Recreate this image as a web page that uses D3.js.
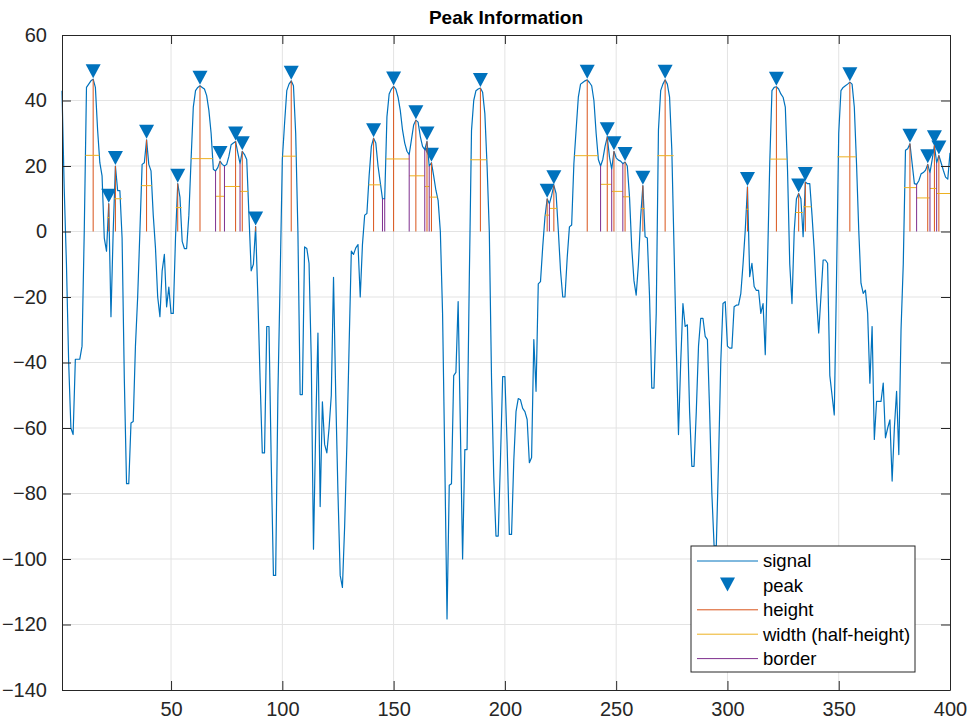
<!DOCTYPE html>
<html>
<head>
<meta charset="utf-8">
<script src="https://cdn.jsdelivr.net/npm/d3@7"></script>
<style>
  body { margin: 0; background: #fff; }
  svg { font-family: "Liberation Sans", Arial, sans-serif; }
</style>
</head>
<body>
<svg id="chart" width="970" height="723"></svg>
<script>
// signal samples, x = 1..400
const signal = [
  43, 13, -10, -40, -60, -62, -39, -39, -39, -35,
  0, 44, 45, 46, 46.5, 44, 31, 21, 17, -2,
  -6, 8.5, -26, 0, 20, 12.5, 12.5, -2, -45, -77,
  -77, -58.5, -58, -35, -20, 0, 20.5, 21, 28, 20.5,
  18.5, 5, -5, -20, -26, -12, -7, -23, -17, -25,
  -25, -2, 14.6, 10.5, -3, -5.2, -5.2, 5, 22, 38,
  43, 44, 44.5, 44, 43.5, 41.5, 37, 30, 19, 18.5,
  19.5, 21.5, 20.5, 20, 20.5, 23, 26.5, 27, 27.5, 24,
  20.7, 24.5, 23.5, 22, 5, -12, -10, 1.5, -20, -45,
  -67.6, -67.6, -29, -29, -70, -105, -105, -50, -15, 22,
  33, 43, 45, 46, 44.5, 30, 0, -49.8, -49.8, -4.7,
  -5.2, -9.7, -39, -97, -60, -31, -84, -52, -65, -67.6,
  -60, -50, -14, -50, -80, -105, -108.7, -90, -65, -35,
  -6, -7, -5, -4, -20, -4, 5, 5.5, 17, 26,
  28.5, 27, 20, 15, 10, 10, 35, 42, 43.5, 44.3,
  43.5, 41, 37, 31, 27, 24.5, 23.5, 28, 32.5, 34,
  33.4, 29, 26, 25, 27.5, 20, 21, 17, 12.6, 9.5,
  0, -25, -70, -118.3, -77.5, -77, -44, -43, -21.4, -60,
  -100, -66.6, -66.6, -15, 30.8, 40, 43, 43.5, 43.8, 42.5,
  36, 20, 0, -45, -75, -93, -93, -70, -44.3, -44.3,
  -65, -92.5, -92.5, -70, -55, -51, -51.4, -54, -55, -57.4,
  -70.6, -69, -33, -48.8, -16, -15.3, -4.7, 4.4, 10, 8.5,
  11, 14.1, 11.6, 0.4, -12, -20, -20, -8, 1.4, 2,
  20.7, 31, 41, 45, 45.5, 46, 46.3, 45.5, 44.5, 40,
  30, 22, 20, 22, 26, 28.8, 22.7, 19, 24.5, 22.5,
  21.8, 21.5, 20.7, 21.2, 20, 10.5, -5, -15, -19.4, -10,
  4.4, 14, -1.6, -2, -20, -47.8, -47.8, -25, 31, 43,
  45, 46.3, 45, 41, 25, -5, -35, -62, -40, -22,
  -29, -28.5, -55, -71.7, -71.7, -55, -35, -26.5, -26.5, -32,
  -33, -55, -80, -96, -96, -70, -40, -22, -21.4, -35,
  -35.6, -35.6, -23, -22.5, -22.4, -19, -10, 0.4, 13.6, -13.8,
  -9.7, -16.8, -18, -18, -25, -22, -37.6, -10, 20.7, 43,
  44, 44.2, 43.5, 42, 41, 38, 18.7, -10, -22, 0,
  10, 11.6, 10, -1.6, 15.1, 14.6, 14.6, 5, -5.7, -20,
  -31, -20, -8.7, -8.7, -9.7, -44, -50, -56, -15, 30,
  43, 44, 44.5, 45, 45.6, 45, 38, 20.7, 0.4, -15.8,
  -18.9, -17.9, -25, -46.3, -29, -63.5, -51.9, -51.9, -51.9, -46.3,
  -63, -60, -57.5, -76.2, -60, -48.8, -68.1, -30, -10, 24.8,
  25.3, 26.8, 20.7, 14.6, 14.4, 15.5, 17.6, 18, 18.7, 20.5,
  18, 22, 26.3, 21, 23.2, 21, 18.7, 16.6, 16, 24
];
const sampleX = d3.range(1, signal.length + 1);

// peak locations (sample index)
const peakLocs = [15, 22, 25, 39, 53, 63, 72, 79, 82, 88, 104, 141, 150, 160, 165, 167,
  189, 219, 222, 237, 246, 249, 254, 262, 272, 309, 322, 332, 335, 355, 382, 390, 393, 395];

const xTicks = [50, 100, 150, 200, 250, 300, 350, 400];
const yTicks = [-140, -120, -100, -80, -60, -40, -20, 0, 20, 40, 60];
const legendLabels = ["signal", "peak", "height", "width (half-height)", "border"];

const colors = {signal: "#0072BD", height: "#D95319", width: "#EDB120", border: "#7E2F8E"};

const plot = {left: 62, right: 950, top: 35, bottom: 690};

const svg = d3.select("#chart");
const x = d3.scaleLinear().domain([1, 400]).range([plot.left, plot.right]);
const y = d3.scaleLinear().domain([-140, 60]).range([plot.bottom, plot.top]);

const sig = i => signal[i - 1];
// x position where the signal crosses a level between samples i and i+1
function crossing(i, level) {
  const y0 = sig(i), y1 = sig(i + 1);
  return i + (level - y0) / (y1 - y0);
}

// bounds: zero crossing, or the minimum between two neighbouring peaks (border)
const peaks = peakLocs.map((p, k) => {
  const pk = sig(p), half = pk / 2;
  let left = null, right = null;
  for (let j = p - 1; j >= 1; j--) {
    if (k > 0 && j === peakLocs[k - 1]) {
      let m = j + 1;
      for (let t = j + 1; t < p; t++) if (sig(t) < sig(m)) m = t;
      left = {x: m, border: true};
      break;
    }
    if (sig(j) < 0) { left = {x: crossing(j, 0), border: false}; break; }
  }
  if (!left) left = {x: 1, border: false};
  for (let j = p + 1; j <= signal.length; j++) {
    if (k < peakLocs.length - 1 && j === peakLocs[k + 1]) {
      let m = p + 1;
      for (let t = p + 1; t < j; t++) if (sig(t) <= sig(m)) m = t;
      right = {x: m, border: true};
      break;
    }
    if (sig(j) < 0) { right = {x: crossing(j - 1, 0), border: false}; break; }
  }
  if (!right) right = {x: signal.length, border: false};

  let wl = left.x, wr = right.x;
  for (let j = p - 1; j >= Math.ceil(left.x); j--) {
    if (sig(j) < half) { wl = Math.max(crossing(j, half), left.x); break; }
  }
  for (let j = p + 1; j <= Math.floor(right.x); j++) {
    if (sig(j) < half) { wr = Math.min(crossing(j - 1, half), right.x); break; }
  }
  return {x: p, pk, half, left, right, wl, wr};
});

const borders = [];
peaks.forEach(d => {
  [d.left, d.right].forEach(b => {
    if (b.border && !borders.includes(b.x)) borders.push(b.x);
  });
});

// grid
const grid = svg.append("g").attr("stroke", "#e3e3e3").attr("stroke-width", 1);
grid.selectAll("line.gx").data(xTicks.filter(t => t < 400)).enter().append("line")
  .attr("x1", d => x(d)).attr("x2", d => x(d))
  .attr("y1", plot.top).attr("y2", plot.bottom);
grid.selectAll("line.gy").data(yTicks.filter(t => t > -140 && t < 60)).enter().append("line")
  .attr("x1", plot.left).attr("x2", plot.right)
  .attr("y1", d => y(d)).attr("y2", d => y(d));

// signal
const line = d3.line().x((d, i) => x(sampleX[i])).y(d => y(d));
svg.append("path")
  .datum(signal)
  .attr("d", line)
  .attr("fill", "none")
  .attr("stroke", colors.signal)
  .attr("stroke-width", 1.2)
  .attr("stroke-linejoin", "round");

// peak markers
const tri = (cx, cy) => `M${cx - 7.5},${cy - 14}L${cx + 7.5},${cy - 14}L${cx},${cy}Z`;
svg.append("g").selectAll("path").data(peaks).enter().append("path")
  .attr("d", d => tri(x(d.x), y(d.pk) - 1))
  .attr("fill", colors.signal);

// heights
svg.append("g").selectAll("line").data(peaks).enter().append("line")
  .attr("x1", d => x(d.x)).attr("x2", d => x(d.x))
  .attr("y1", y(0)).attr("y2", d => y(d.pk))
  .attr("stroke", colors.height).attr("stroke-width", 1);

// half-height widths
svg.append("g").selectAll("line").data(peaks).enter().append("line")
  .attr("x1", d => x(d.wl)).attr("x2", d => x(d.wr))
  .attr("y1", d => y(d.half)).attr("y2", d => y(d.half))
  .attr("stroke", colors.width).attr("stroke-width", 1);

// borders
svg.append("g").selectAll("line").data(borders).enter().append("line")
  .attr("x1", d => x(d)).attr("x2", d => x(d))
  .attr("y1", y(0)).attr("y2", d => y(sig(d)))
  .attr("stroke", colors.border).attr("stroke-width", 1);

// axes box + ticks
const axisColor = "#262626";
const xAxisB = d3.axisBottom(x).tickValues(xTicks).tickSize(-9).tickPadding(12).tickSizeOuter(0);
const xAxisT = d3.axisTop(x).tickValues(xTicks).tickSize(-9).tickFormat("").tickSizeOuter(0);
const yAxisL = d3.axisLeft(y).tickValues(yTicks).tickSize(-9).tickPadding(15).tickSizeOuter(0);
const yAxisR = d3.axisRight(y).tickValues(yTicks).tickSize(-9).tickFormat("").tickSizeOuter(0);

function styleAxis(g) {
  g.selectAll("path").attr("stroke", axisColor).attr("stroke-width", 1);
  g.selectAll("line").attr("stroke", axisColor).attr("stroke-width", 1);
  g.selectAll("text").attr("fill", axisColor).attr("font-size", 20);
}
svg.append("g").attr("transform", `translate(0,${plot.bottom})`).call(xAxisB).call(styleAxis);
svg.append("g").attr("transform", `translate(0,${plot.top})`).call(xAxisT).call(styleAxis);
svg.append("g").attr("transform", `translate(${plot.left},0)`).call(yAxisL).call(styleAxis);
svg.append("g").attr("transform", `translate(${plot.right},0)`).call(yAxisR).call(styleAxis);
svg.selectAll(".domain").attr("fill", "none");

// title
svg.append("text")
  .attr("x", (plot.left + plot.right) / 2).attr("y", 24)
  .attr("text-anchor", "middle")
  .attr("font-size", 19).attr("font-weight", "bold")
  .attr("fill", "#000")
  .text("Peak Information");

// legend
const lg = svg.append("g").attr("transform", "translate(691,546)");
lg.append("rect").attr("width", 224).attr("height", 126)
  .attr("fill", "#fff").attr("stroke", axisColor).attr("stroke-width", 1);
const legendColors = [colors.signal, colors.signal, colors.height, colors.width, colors.border];
legendLabels.forEach((label, i) => {
  const ly = 15 + i * 24.4;
  if (i === 1) {
    lg.append("path").attr("d", tri(36.5, ly + 6)).attr("fill", colors.signal);
  } else {
    lg.append("line").attr("x1", 6).attr("x2", 67).attr("y1", ly).attr("y2", ly)
      .attr("stroke", legendColors[i]).attr("stroke-width", 1);
  }
  lg.append("text").attr("x", 72).attr("y", ly).attr("dy", "0.35em")
    .attr("font-size", 18.5).attr("fill", "#000").text(label);
});
</script>
</body>
</html>
